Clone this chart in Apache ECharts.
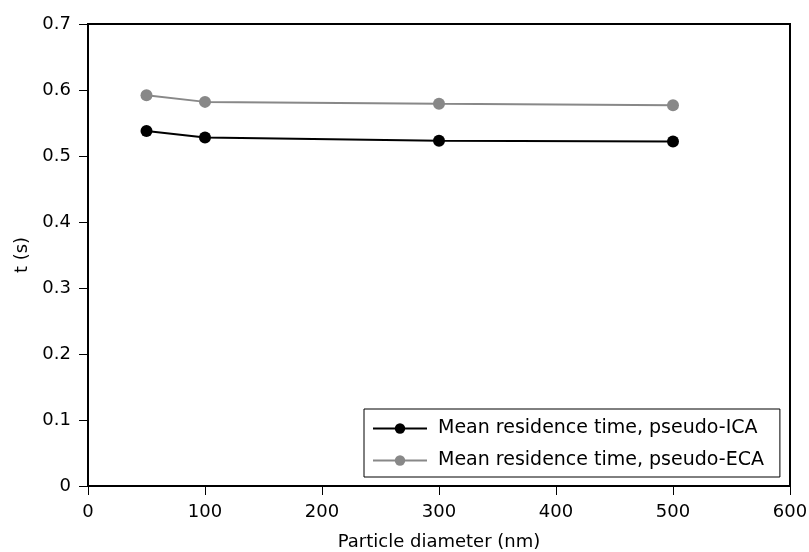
<!DOCTYPE html>
<html>
<head>
<meta charset="utf-8">
<script src="https://cdn.jsdelivr.net/npm/echarts@6/dist/echarts.min.js"></script>
<style>
  html, body { margin: 0; padding: 0; background: #fff; }
  #chart { width: 809px; height: 552px; }
</style>
</head>
<body>
<div id="chart"></div>
<script>
// Particle diameters (nm)
const diameters = [50, 100, 300, 500];
// Mean residence time (s)
const icaTimes = [0.538, 0.528, 0.523, 0.522];
const ecaTimes = [0.592, 0.582, 0.579, 0.577];
const seriesNames = ['Mean residence time, pseudo-ICA', 'Mean residence time, pseudo-ECA'];

const font = 'DejaVu Sans, sans-serif';
const chart = echarts.init(document.getElementById('chart'));

function pairs(xs, ys) { return xs.map((x, i) => [x, ys[i]]); }

const axisText = { fontSize: 18, color: '#000', fontFamily: font };

chart.setOption({
  animation: false,
  textStyle: { fontFamily: font },
  grid: {
    left: 88, right: 19, top: 24, bottom: 66,
    outerBoundsMode: 'none', containLabel: false,
    show: true, borderColor: '#000', borderWidth: 2
  },
  xAxis: {
    type: 'value', min: 0, max: 600, interval: 100,
    name: 'Particle diameter (nm)', nameLocation: 'middle', nameGap: 47,
    nameTextStyle: axisText,
    axisLine: { lineStyle: { color: '#000', width: 2 } },
    axisTick: { show: true, length: 9, lineStyle: { color: '#000', width: 1 } },
    axisLabel: Object.assign({ margin: 17 }, axisText),
    splitLine: { show: false }
  },
  yAxis: {
    type: 'value', min: 0, max: 0.7, interval: 0.1,
    name: 't (s)', nameLocation: 'middle', nameGap: 54, nameRotate: 90,
    nameTextStyle: axisText,
    axisLine: { lineStyle: { color: '#000', width: 2 } },
    axisTick: { show: true, length: 9, lineStyle: { color: '#000', width: 1 } },
    axisLabel: Object.assign({ margin: 17 }, axisText),
    splitLine: { show: false }
  },
  legend: {
    orient: 'vertical', left: 364, top: 409,
    backgroundColor: '#fff', borderColor: '#000', borderWidth: 1,
    padding: [10, 16, 7, 8], itemGap: 13, itemWidth: 54, itemHeight: 13,
    textStyle: { fontSize: 19, color: '#000', fontFamily: font, padding: [0, 0, 0, 6] },
    data: seriesNames
  },
  series: [
    {
      name: seriesNames[0], type: 'line', data: pairs(diameters, icaTimes),
      symbol: 'circle', symbolSize: 12,
      lineStyle: { color: '#000', width: 2 }, itemStyle: { color: '#000' }
    },
    {
      name: seriesNames[1], type: 'line', data: pairs(diameters, ecaTimes),
      symbol: 'circle', symbolSize: 12,
      lineStyle: { color: '#888', width: 2 }, itemStyle: { color: '#888' }
    }
  ]
});
</script>
</body>
</html>
